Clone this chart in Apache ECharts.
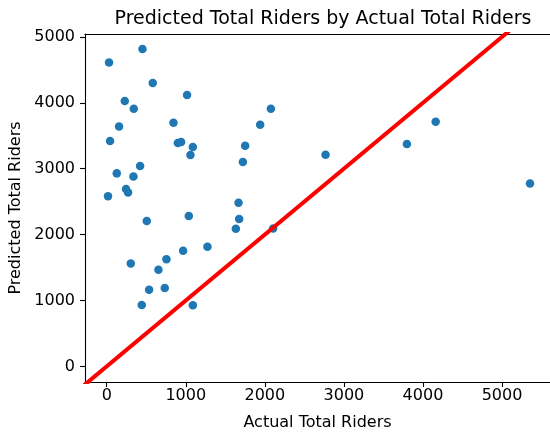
<!DOCTYPE html>
<html>
<head>
<meta charset="utf-8">
<script src="https://cdn.jsdelivr.net/npm/echarts@6/dist/echarts.min.js"></script>
<style>
html,body{margin:0;padding:0;background:#fff;}
#chart{width:550px;height:432px;}
</style>
</head>
<body>
<div id="chart"></div>
<script>
var actualRiders = [29, 452, 582, 1016, 228, 342, 844, 156, 42, 899, 941, 1089, 1059, 2076, 1941, 1751, 1722, 1667, 127, 422, 338, 244, 270, 16, 506, 1038, 304, 755, 654, 966, 1274, 536, 734, 443, 1089, 1675, 1633, 2105, 2768, 3797, 4161, 5354];
var predictedRiders = [4613, 4816, 4300, 4118, 4027, 3910, 3698, 3642, 3420, 3390, 3405, 3329, 3208, 3910, 3668, 3349, 3102, 2484, 2929, 3041, 2883, 2692, 2640, 2580, 2206, 2282, 1563, 1624, 1467, 1756, 1816, 1164, 1190, 932, 926, 2237, 2090, 2094, 3212, 3375, 3713, 2777];
var identityLine = [-500, 6000];
var xTicks = [0, 1000, 2000, 3000, 4000, 5000];
var yTicks = [0, 1000, 2000, 3000, 4000, 5000];

var xMin = -275, xMax = 5607, yMin = -237, yMax = 5044;

var pts = actualRiders.map(function (a, i) { return [a, predictedRiders[i]]; });
var linePts = identityLine.map(function (v) { return [v, v]; });

var font = 'DejaVu Sans';
var fmt = function (v) { return String(v); };
var chart = echarts.init(document.getElementById('chart'), null, {renderer: 'canvas'});
chart.setOption({
  animation: false,
  backgroundColor: '#ffffff',
  title: {
    text: 'Predicted Total Riders by Actual Total Riders',
    left: 318, top: 5, textAlign: 'center',
    textStyle: {fontFamily: font, fontSize: 19, fontWeight: 'normal', color: '#000'}
  },
  grid: {left: 85, right: 0, top: 34, bottom: 50, containLabel: false, outerBoundsMode: 'none'},
  xAxis: [{
    type: 'value', min: xMin, max: xMax,
    name: 'Actual Total Riders', nameLocation: 'middle', nameGap: 33,
    nameTextStyle: {fontFamily: font, fontSize: 16, color: '#000'},
    axisLine: {show: true, onZero: false, lineStyle: {color: '#000', width: 1.1}},
    axisTick: {show: true, length: 5, customValues: xTicks, lineStyle: {color: '#000', width: 1.1}},
    axisLabel: {customValues: xTicks, formatter: fmt, margin: 6, fontFamily: font, fontSize: 16, color: '#000'},
    splitLine: {show: false}
  }, {
    type: 'value', position: 'top', min: xMin, max: xMax,
    axisLine: {show: true, onZero: false, lineStyle: {color: '#000', width: 1.1}},
    axisTick: {show: false}, axisLabel: {show: false}, splitLine: {show: false}
  }],
  yAxis: {
    type: 'value', min: yMin, max: yMax,
    name: 'Predicted Total Riders', nameLocation: 'middle', nameGap: 52,
    nameTextStyle: {fontFamily: font, fontSize: 16, color: '#000'},
    axisLine: {show: true, onZero: false, lineStyle: {color: '#000', width: 1.1}},
    axisTick: {show: true, length: 5, customValues: yTicks, lineStyle: {color: '#000', width: 1.1}},
    axisLabel: {customValues: yTicks, formatter: fmt, margin: 10, fontFamily: font, fontSize: 16, color: '#000'},
    splitLine: {show: false}
  },
  series: [{
    type: 'scatter', data: pts, symbolSize: 8.5,
    itemStyle: {color: '#1f77b4', opacity: 1}, z: 2
  }, {
    type: 'line', data: linePts, showSymbol: false, symbol: 'none', clip: true,
    lineStyle: {color: '#ff0000', width: 4}, z: 3
  }]
});
</script>
</body>
</html>
